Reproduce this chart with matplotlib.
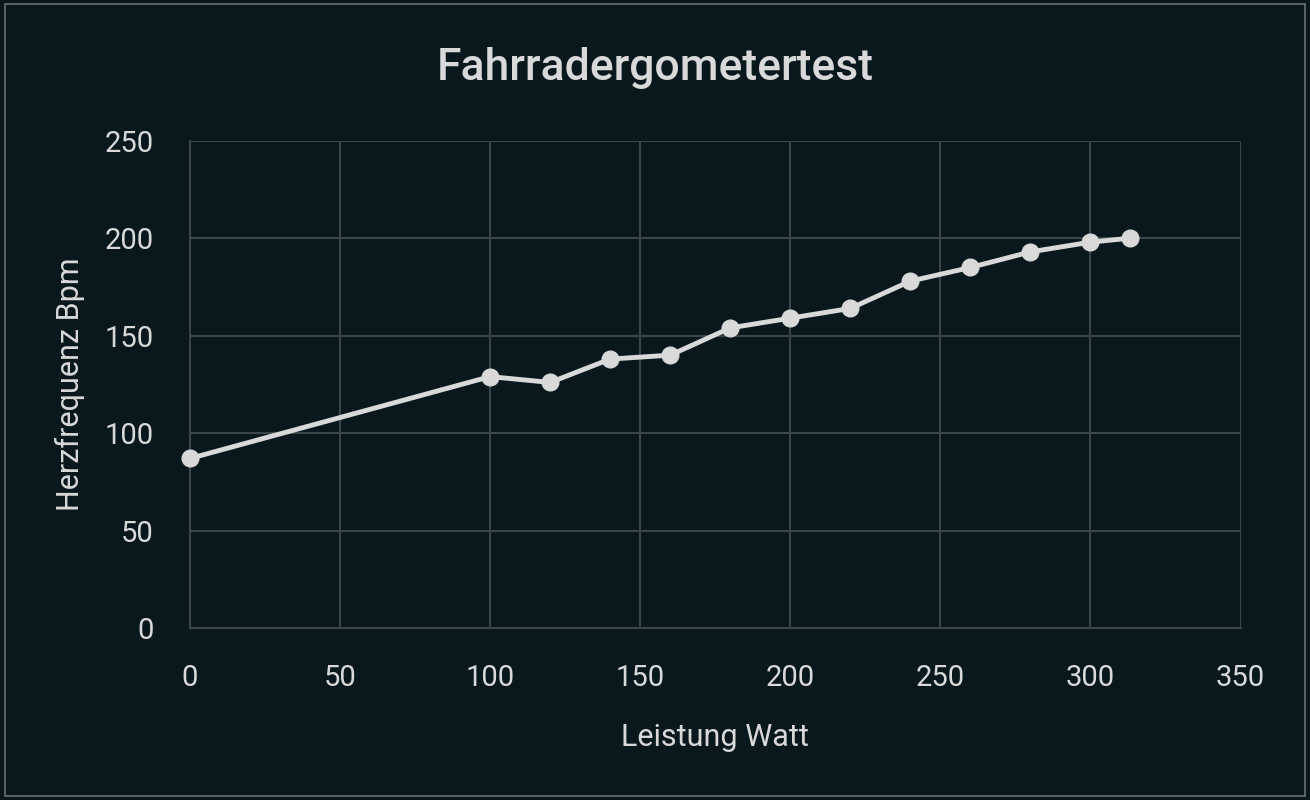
import matplotlib

matplotlib.use("Agg")

import matplotlib.pyplot as plt
from matplotlib.patches import Rectangle

# Data
watt = [0, 100, 120, 140, 160, 180, 200, 220, 240, 260, 280, 300, 313]
bpm = [87, 129, 126, 138, 140, 154, 159, 164, 178, 185, 193, 198, 200]

BG = "#08181c"
FG = "#d9d9d9"
GRID = "#3b4649"

plt.rcParams["font.family"] = ["Roboto", "DejaVu Sans"]

fig = plt.figure(figsize=(13.1, 8.0), dpi=100, facecolor=BG)
ax = fig.add_axes([0.145, 0.215, 0.802, 0.609], facecolor=BG)

# thin frame around the whole figure
fig.patches.append(Rectangle((0.004, 0.005), 0.992, 0.99, transform=fig.transFigure,
                             fill=False, edgecolor="#6a7375", linewidth=1.2))

ax.plot(watt, bpm, color=FG, linewidth=3.5, marker="o", markersize=12,
        markerfacecolor=FG, markeredgecolor=FG, zorder=3, clip_on=False)

ax.set_xlim(0, 350)
ax.set_ylim(0, 250)
ax.set_xticks(range(0, 351, 50))
ax.set_yticks(range(0, 251, 50))
ax.grid(True, color=GRID, linewidth=1.5)
ax.tick_params(colors=FG, labelsize=21, length=0)
ax.tick_params(axis="x", pad=26)
ax.tick_params(axis="y", pad=26)
for side, sp in ax.spines.items():
    sp.set_visible(side in ("left", "bottom"))
    sp.set_color(GRID)
    sp.set_linewidth(1.5)

ax.set_xlabel("Leistung Watt", color=FG, fontsize=22, labelpad=22)
ax.set_ylabel("Herzfrequenz Bpm", color=FG, fontsize=22, labelpad=14)
fig.text(0.5, 0.915, "Fahrradergometertest", color=FG, fontsize=32,
         ha="center", va="center", fontweight="medium")

fig.savefig("out.png", dpi=100, facecolor=BG)
